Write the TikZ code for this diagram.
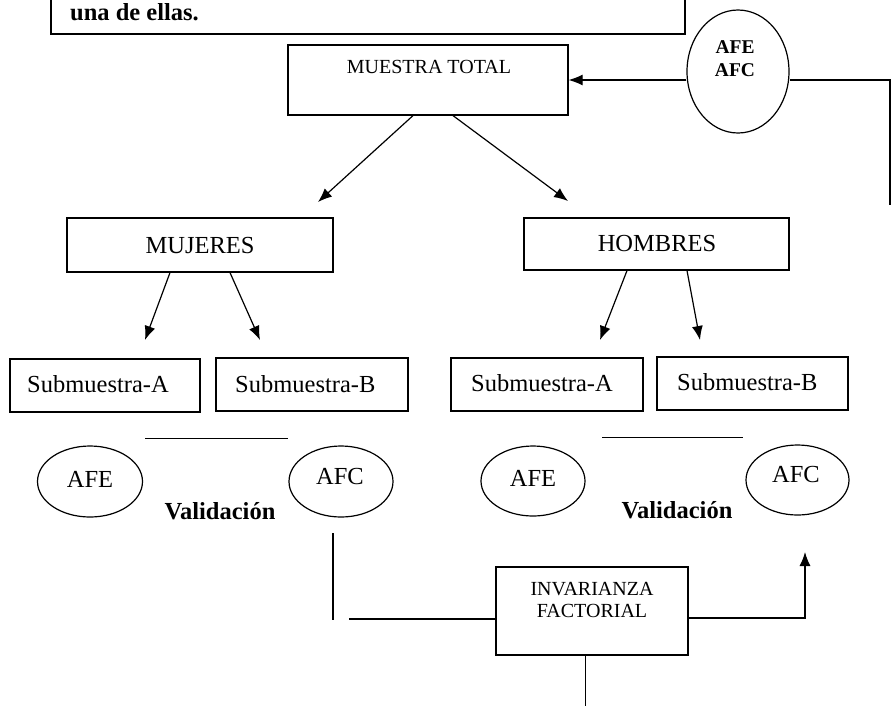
\documentclass[tikz,border=0pt]{standalone}
\usepackage{fontspec}
\setmainfont{Liberation Serif}
\usetikzlibrary{shapes.geometric,arrows.meta,calc}
\begin{document}
\begin{tikzpicture}[x=1pt,y=-1pt,
  box/.style={draw,line width=1.2pt,inner sep=0pt,minimum width=#1},
  oval/.style={draw,ellipse,line width=1.2pt,inner sep=0pt},
  lbl/.style={inner sep=0pt,anchor=base},
  ln/.style={line width=1.2pt},
  arr/.style={line width=1.2pt,-{Latex[length=14pt,width=11pt]}},
  fA/.style={font=\fontsize{24.5}{26}\selectfont},
  fB/.style={font=\fontsize{20}{22}\selectfont},
  fAb/.style={font=\fontsize{24.5}{26}\selectfont\bfseries},
  fBb/.style={font=\fontsize{19.5}{21}\selectfont\bfseries}]
\useasboundingbox (0,0) rectangle (891,705);
\clip (0,0) rectangle (891,705);
% top text box
\node[box=634pt,minimum height=60pt] (top) at (368,4) {};
\node[lbl,fAb,anchor=base west] (t1) at (70,20) {una de ellas.};
% muestra total
\node[box=280pt,minimum height=70pt] (mt) at (428,80) {};
\node[lbl,fB] (mtl) at (429,73) {MUESTRA TOTAL};
% circle
\node[oval,minimum width=102pt,minimum height=123pt] (circ) at (738,71.5) {};
\node[lbl,fBb] (c1) at (735,53) {AFE};
\node[lbl,fBb] (c2) at (735,76) {AFC};
\coordinate (rc1) at (890,80);
\coordinate (rc2) at (890,205);
\draw[arr] (mt.east -| circ.west) -- (mt.east);
\draw[ln] (mt.east -| circ.east) -- (rc1) -- (rc2);
% mujeres / hombres
\node[box=266pt,minimum height=54pt] (muj) at (200,245) {};
\node[lbl,fA] (mujl) at (200,253) {MUJERES};
\node[box=265pt,minimum height=52pt] (hom) at (656.5,244) {};
\node[lbl,fA] (homl) at (657,251) {HOMBRES};
\coordinate (e1) at (318,202);
\coordinate (e2) at (568,201);
\draw[arr] ([xshift=-15pt]mt.south) -- (e1);
\draw[arr] ([xshift=25pt]mt.south) -- (e2);
% submuestras
\node[box=190pt,minimum height=53pt] (sa1) at (105,385.5) {};
\node[box=192pt,minimum height=53pt] (sb1) at (312,384.5) {};
\node[box=192pt,minimum height=53pt] (sa2) at (547,384.5) {};
\node[box=191pt,minimum height=53pt] (sb2) at (752.5,383.5) {};
\node[lbl,fA,anchor=base west] (sa1l) at (27,392) {Submuestra-A};
\node[lbl,fA,anchor=base west] (sb1l) at (235,392) {Submuestra-B};
\node[lbl,fA,anchor=base west] (sa2l) at (471,391) {Submuestra-A};
\node[lbl,fA,anchor=base west] (sb2l) at (677,390) {Submuestra-B};
\coordinate (m1) at (145,340);
\coordinate (m2) at (260,340);
\coordinate (h1) at (600,340);
\coordinate (h2) at (700,340);
\draw[arr] ([xshift=-30pt]muj.south) -- (m1);
\draw[arr] ([xshift=30pt]muj.south) -- (m2);
\draw[arr] ([xshift=-29.5pt]hom.south) -- (h1);
\draw[arr] ([xshift=30.5pt]hom.south) -- (h2);
% separator lines
\coordinate (s1a) at (145,438);
\coordinate (s1b) at (288,438);
\coordinate (s2a) at (602,437);
\coordinate (s2b) at (743,437);
\draw[line width=1pt] (s1a) -- (s1b);
\draw[line width=1pt] (s2a) -- (s2b);
% ellipses
\node[oval,minimum width=105pt,minimum height=71pt] (afe1) at (90,481.5) {};
\node[oval,minimum width=104pt,minimum height=71pt] (afc1) at (341,481.5) {};
\node[oval,minimum width=104pt,minimum height=70pt] (afe2) at (533,481) {};
\node[oval,minimum width=103pt,minimum height=70pt] (afc2) at (797.5,480) {};
\node[lbl,fA] (afe1l) at (90,487) {AFE};
\node[lbl,fA] (afc1l) at (340,484) {AFC};
\node[lbl,fA] (afe2l) at (533,486) {AFE};
\node[lbl,fA] (afc2l) at (796,482) {AFC};
\node[lbl,fAb] (v1) at (220,519) {Validación};
\node[lbl,fAb] (v2) at (677,518) {Validación};
% invarianza
\node[box=192pt,minimum height=88pt] (inv) at (592,611) {};
\node[lbl,fB] (inv1) at (592,595) {INVARIANZA};
\node[lbl,fB] (inv2) at (592,617) {FACTORIAL};
\coordinate (va) at (333,533);
\coordinate (vb) at (333,620);
\coordinate (ha) at (349,619);
\coordinate (up) at (805,552);
\coordinate (bot) at (585,710);
\draw[ln] (va) -- (vb);
\draw[ln] (ha) -- (ha -| inv.west);
\draw[arr] ([yshift=-7pt]inv.east) -| (up);
\draw[line width=1pt] (inv.south -| bot) -- (bot);
\end{tikzpicture}
\end{document}
